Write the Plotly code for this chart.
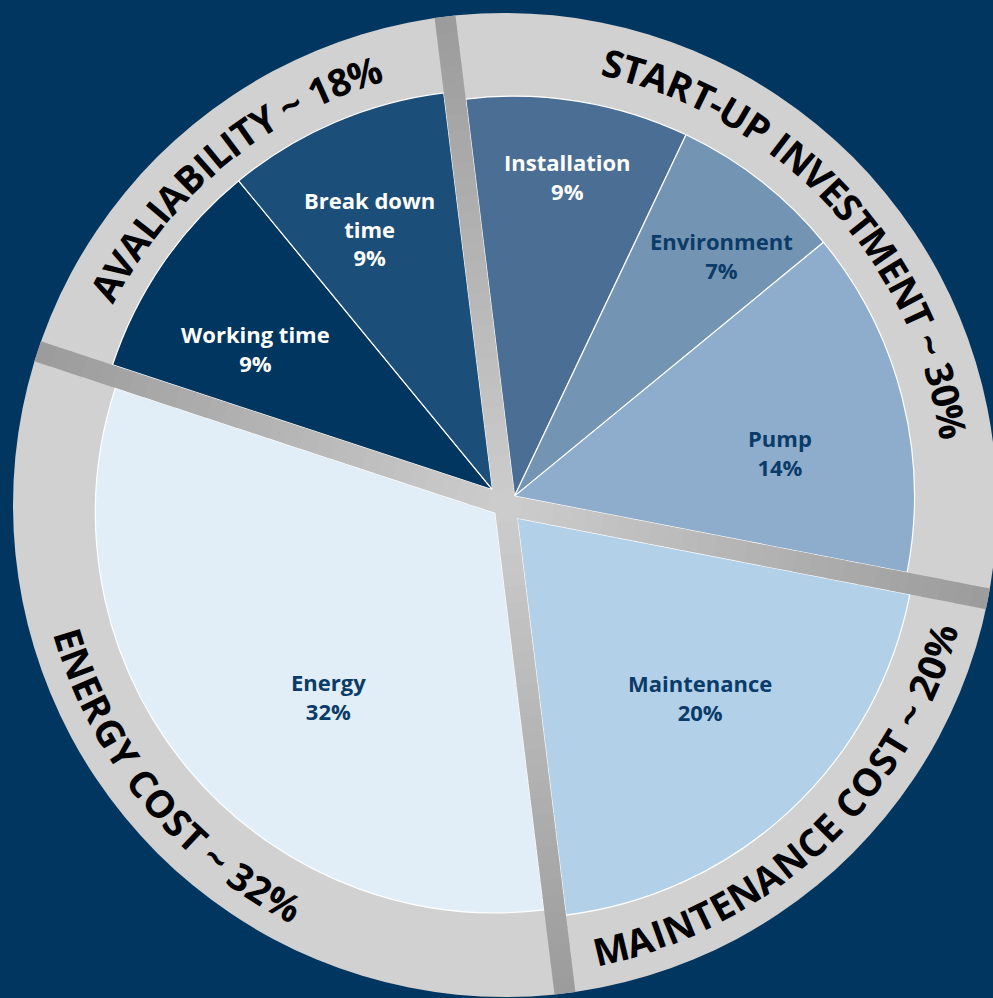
import math
import plotly.graph_objects as go

W, H = 993, 998

# ---------------- data ----------------
group_names = ["START-UP INVESTMENT", "MAINTENANCE COST", "ENERGY COST", "AVALIABILITY"]
group_pcts = [30, 20, 32, 18]

slice_labels = ["Installation", "Environment", "Pump", "Maintenance", "Energy",
                "Working time", "Break down<br>time"]
slice_values = [9, 7, 14, 20, 32, 9, 9]
slice_groups = [0, 0, 0, 1, 2, 3, 3]

# ---------------- style ----------------
BG = "#003660"
RING = "#d1d1d1"
slice_colors = ["#4b6e95", "#7494b3", "#8eadcd", "#b2d0e8", "#e1eef7", "#00365f", "#1b4e79"]
label_colors = ["#ffffff", "#0b3b68", "#0b3b68", "#0b3b68", "#0b3b68", "#ffffff", "#ffffff"]
label_r = [334, 330, 280, 274, 261, 295, 308]
label_dang = [1.5, 3.0, 3.3, -2.4, -7.9, -2.3, -3.0]

CX, CY = 505, 505
R_OUT = 492
R_PIE = 400
R_TXT = 455
BAR_W = 21
ROT = -7.0
RING_FS = 38
LABEL_FS = 22
FONT = "Open Sans"

CHAR_W = {" ": .26, "%": .87, "-": .32, "~": .57, "A": .68, "B": .69, "C": .65, "D": .75,
          "E": .56, "G": .74, "I": .35, "L": .56, "M": .91, "N": .79, "O": .79, "P": .65,
          "R": .68, "S": .56, "T": .57, "U": .75, "V": .64, "Y": .61}
for d in "0123456789":
    CHAR_W[d] = .57


def px(x, y):
    return x / W, 1 - y / H


def polar(cx, cy, r, ang):
    a = math.radians(ang)
    return cx + r * math.sin(a), cy - r * math.cos(a)


fig = go.Figure()
shapes = []
annotations = []

# outer ring
x0, y0 = px(CX - R_OUT, CY - R_OUT)
x1, y1 = px(CX + R_OUT, CY + R_OUT)
shapes.append(dict(type="circle", xref="paper", yref="paper", x0=x0, x1=x1, y0=y1, y1=y0,
                   fillcolor=RING, line=dict(width=0), layer="below"))

# group boundaries
group_start = [ROT + 3.6 * sum(group_pcts[:i]) for i in range(len(group_pcts))]
group_span = [3.6 * p for p in group_pcts]

# pies, one per group, exploded off the centre by half the bar width
for g in range(len(group_names)):
    idx = [i for i, s in enumerate(slice_groups) if s == g]
    vals = [slice_values[i] for i in idx]
    cols = [slice_colors[i] for i in idx]
    vals.append(100 - sum(vals))
    cols.append("rgba(0,0,0,0)")
    half = group_span[g] / 2
    bis = group_start[g] + half
    d = (BAR_W / 2) / math.sin(math.radians(half))
    gx, gy = polar(CX, CY, d, bis)
    dx0, dy0 = px(gx - R_PIE, gy + R_PIE)
    dx1, dy1 = px(gx + R_PIE, gy - R_PIE)
    fig.add_trace(go.Pie(
        values=vals, sort=False, direction="clockwise", rotation=group_start[g],
        marker=dict(colors=cols, line=dict(color=["#ffffff"] * len(idx) + ["rgba(0,0,0,0)"],
                                           width=[1.2] * len(idx) + [0])),
        textinfo="none", hoverinfo="skip", showlegend=False,
        domain=dict(x=[dx0, dx1], y=[dy0, dy1])))

# separator bars with a light-to-dark gradient
NSEG = 30
c_in, c_out = 0xcd, 0x9b
for a in group_start:
    for k in range(NSEG):
        r0 = R_OUT * k / NSEG - (2 if k == 0 else 0)
        r1 = min(R_OUT * (k + 1) / NSEG + 1, R_OUT)
        t = (k + 0.5) / NSEG
        c = int(round(c_in + (c_out - c_in) * t))
        col = "#%02x%02x%02x" % (c, c, c)
        xa, ya = px(*polar(CX, CY, r0, a))
        xb, yb = px(*polar(CX, CY, r1, a))
        shapes.append(dict(type="line", xref="paper", yref="paper", x0=xa, y0=ya, x1=xb, y1=yb,
                           line=dict(color=col, width=BAR_W), layer="above"))

# curved ring titles
for g in range(len(group_names)):
    text = f"{group_names[g]} ~ {group_pcts[g]}%"
    bis = group_start[g] + group_span[g] / 2
    top = math.cos(math.radians(bis)) > 0
    widths = [CHAR_W.get(ch, .6) * RING_FS for ch in text]
    total = sum(widths)
    deg_per_px = 180 / (math.pi * R_TXT)
    cum = 0
    for ch, w in zip(text, widths):
        off = (cum + w / 2 - total / 2) * deg_per_px
        cum += w
        if ch == " ":
            continue
        ang = bis + off if top else bis - off
        xx, yy = px(*polar(CX, CY, R_TXT, ang))
        annotations.append(dict(x=xx, y=yy, xref="paper", yref="paper", text=ch, showarrow=False,
                                xanchor="center", yanchor="middle",
                                textangle=ang if top else ang - 180,
                                font=dict(family=FONT, size=RING_FS, color="#000000", weight=700)))

# slice labels
cum = 0
for i, (lab, v) in enumerate(zip(slice_labels, slice_values)):
    mid = ROT + 3.6 * (cum + v / 2)
    cum += v
    xx, yy = px(*polar(CX, CY, label_r[i], mid + label_dang[i]))
    annotations.append(dict(x=xx, y=yy, xref="paper", yref="paper", text=f"{lab}<br>{v}%",
                            showarrow=False, xanchor="center", yanchor="middle", align="center",
                            font=dict(family=FONT, size=LABEL_FS, color=label_colors[i], weight=700)))

fig.update_layout(width=W, height=H, margin=dict(l=0, r=0, t=0, b=0),
                  paper_bgcolor=BG, plot_bgcolor=BG, shapes=shapes, annotations=annotations,
                  xaxis=dict(visible=False), yaxis=dict(visible=False))
fig.write_html("out.html", config={"displayModeBar": False},
               post_script="document.body.style.margin='0';document.body.style.overflow='hidden';"
                           "document.body.style.background='" + BG + "';")
